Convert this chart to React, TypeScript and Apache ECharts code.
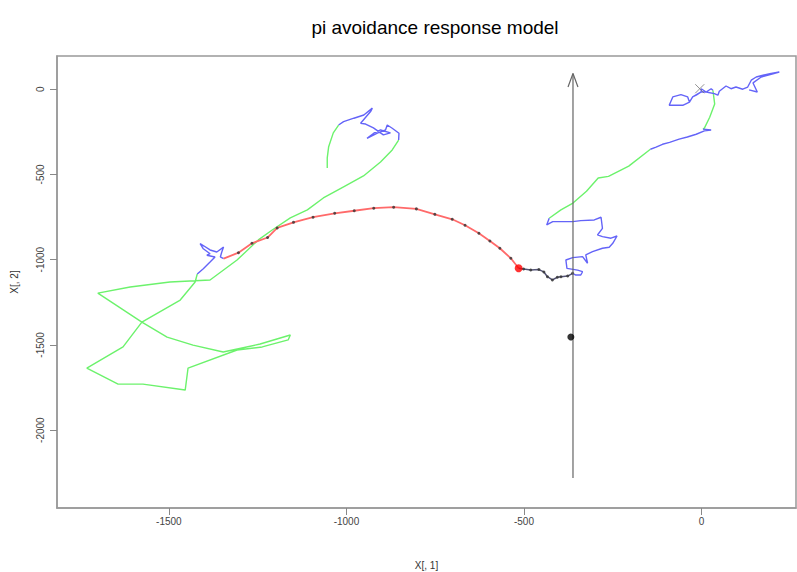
import React, { useEffect, useRef } from "react";
import * as echarts from "echarts";

type P = [number, number];

const titleText = "pi avoidance response model";
const xName = "X[, 1]";
const yName = "X[, 2]";
const xTicks = [-1500, -1000, -500, 0];
const yTicks = [0, -500, -1000, -1500, -2000];

const greenA: P[] = [[-853,-298],[-871,-356],[-904,-427],[-952,-509],[-1008,-573],[-1065,-638],[-1110,-708],[-1158,-755],[-1209,-826],[-1248,-884],[-1308,-1002],[-1384,-1119],[-1497,-1131],[-1609,-1160],[-1700,-1196],[-1576,-1366],[-1505,-1454],[-1432,-1501],[-1347,-1542],[-1243,-1495],[-1158,-1442],[-1164,-1471],[-1237,-1512],[-1308,-1530],[-1446,-1636],[-1454,-1765],[-1573,-1730],[-1643,-1730],[-1731,-1636],[-1629,-1512],[-1576,-1366],[-1468,-1237],[-1426,-1131],[-1420,-1084]];
const blueL: P[] = [[-1420,-1084],[-1403,-1053],[-1384,-1014],[-1370,-984],[-1393,-974],[-1384,-965],[-1403,-936],[-1412,-906],[-1401,-920],[-1384,-943],[-1365,-955],[-1346,-926],[-1351,-955],[-1355,-984],[-1346,-994]];
const redCurve: P[] = [[-1346,-994],[-1304,-959],[-1266,-904],[-1222,-870],[-1195,-814],[-1149,-781],[-1094,-751],[-1033,-728],[-978,-713],[-923,-698],[-867,-692],[-803,-702],[-751,-734],[-702,-763],[-666,-798],[-627,-845],[-596,-890],[-568,-933],[-537,-992],[-515,-1050]];
const darkSeg: P[] = [[-515,-1050],[-501,-1055],[-481,-1061],[-458,-1058],[-444,-1072],[-434,-1100],[-420,-1119],[-406,-1103],[-396,-1100],[-377,-1096],[-363,-1080]];
const blueR: P[] = [[-363,-1080],[-354,-1090],[-340,-1090],[-335,-1070],[-349,-1061],[-379,-1051],[-382,-1002],[-363,-988],[-335,-982],[-321,-1021],[-326,-972],[-307,-953],[-279,-933],[-260,-927],[-250,-904],[-238,-861],[-255,-874],[-279,-865],[-293,-855],[-279,-816],[-283,-751],[-302,-767],[-340,-771],[-363,-777],[-419,-777],[-436,-796],[-429,-757]];
const greenB: P[] = [[-429,-757],[-396,-708],[-362,-668],[-324,-599],[-291,-521],[-262,-511],[-205,-451],[-144,-352]];
const blueTR: P[] = [[-144,-352],[-128,-340],[-110,-323],[-90,-312],[-63,-293],[-40,-280],[-15,-264],[8,-244],[27,-239],[4,-234]];
const greenC: P[] = [[4,-234],[8,-228],[23,-164],[37,-86],[32,-6]];
const blueTop: P[] = [[32,-6],[27,3],[13,-16],[-1,3],[-1,-16],[-15,-35],[-25,-45],[-34,-75],[-53,-94],[-91,-94],[-81,-45],[-58,-32],[-39,-45],[-34,-75],[-25,-45],[-1,-16],[13,-16],[36,-26],[46,-35],[50,-12],[69,19],[83,3],[97,13],[116,0],[130,13],[140,53],[154,72],[173,82],[196,92],[219,101],[196,87],[168,72],[145,37],[157,-16],[134,-4]];
const blueM: P[] = [[-853,-298],[-852,-258],[-871,-229],[-885,-210],[-890,-239],[-913,-258],[-942,-288],[-923,-258],[-904,-239],[-876,-256],[-896,-268],[-924,-227],[-946,-204],[-960,-200],[-932,-131],[-927,-111],[-951,-151],[-979,-170],[-1008,-190],[-1022,-210]];
const greenD: P[] = [[-1022,-210],[-1037,-256],[-1050,-337],[-1054,-403],[-1054,-462]];
const arrowShaft: P[] = [[-362,-2281],[-362,92]];
const arrowHead: P[] = [[-376,13],[-362,92],[-348,13]];
const blackPoint: P[] = [[-368,-1454]];
const redPoint: P[] = [[-515,-1050]];
const originMark: P[] = [[-5,3]];

const GREEN = "#6cf26c";
const BLUE = "#6464f8";
const RED = "#ff6a6a";

export default function App() {
  const ref = useRef<HTMLDivElement>(null);
  useEffect(() => {
    const chart = echarts.init(ref.current!, null, { renderer: "svg" });
    const font = "'Liberation Sans', Arial, sans-serif";
    const line = (data: P[], color: string, width = 1.4, z = 2) => ({
      type: "line",
      data,
      showSymbol: false,
      symbol: "none",
      lineStyle: { color, width },
      itemStyle: { color },
      silent: true,
      z,
    });
    const plain = (v: number) => String(v);
    chart.setOption({
      animation: false,
      backgroundColor: "#fff",
      title: {
        text: titleText,
        left: 430,
        top: 13,
        textAlign: "center",
        textStyle: { fontFamily: font, fontSize: 19, fontWeight: "normal", color: "#000" },
      },
      grid: {
        left: 57,
        right: 1,
        top: 56,
        bottom: 64,
        show: true,
        borderColor: "#999",
        borderWidth: 1.5,
        backgroundColor: "transparent",
        outerBoundsMode: "none",
        containLabel: false,
      },
      xAxis: {
        type: "value",
        min: -1815,
        max: 266,
        name: xName,
        nameLocation: "middle",
        nameGap: 52,
        nameTextStyle: { fontFamily: font, fontSize: 10, color: "#333" },
        splitLine: { show: false },
        axisLine: { show: true, onZero: false, lineStyle: { color: "#999", width: 1.5 } },
        axisTick: { show: true, length: 7, customValues: xTicks, lineStyle: { color: "#888" } },
        axisLabel: { customValues: xTicks, margin: 8, formatter: plain, fontFamily: font, fontSize: 10, color: "#444" },
      },
      yAxis: {
        type: "value",
        min: -2457,
        max: 195,
        name: yName,
        nameLocation: "middle",
        nameGap: 38,
        nameRotate: 90,
        nameTextStyle: { fontFamily: font, fontSize: 10, color: "#333" },
        splitLine: { show: false },
        axisLine: { show: true, onZero: false, lineStyle: { color: "#999", width: 1.5 } },
        axisTick: { show: true, length: 7, customValues: yTicks, lineStyle: { color: "#888" } },
        axisLabel: { customValues: yTicks, rotate: 90, margin: 12, formatter: plain, fontFamily: font, fontSize: 10, color: "#444" },
      },
      series: [
        line(greenA, GREEN),
        line(greenB, GREEN),
        line(greenC, GREEN),
        line(greenD, GREEN),
        line(blueL, BLUE),
        line(blueM, BLUE),
        line(blueR, BLUE),
        line(blueTR, BLUE),
        line(blueTop, BLUE),
        line(redCurve, RED, 1.8, 3),
        {
          type: "scatter",
          data: redCurve.slice(1, -1),
          symbol: "circle",
          symbolSize: 3,
          itemStyle: { color: "#333" },
          silent: true,
          z: 4,
        },
        line(darkSeg, "#555577", 1.5, 3),
        {
          type: "scatter",
          data: darkSeg.slice(1),
          symbol: "circle",
          symbolSize: 3,
          itemStyle: { color: "#333" },
          silent: true,
          z: 4,
        },
        {
          type: "scatter",
          data: redPoint,
          symbol: "circle",
          symbolSize: 8,
          itemStyle: { color: "#ff0000" },
          silent: true,
          z: 5,
        },
        line(arrowShaft, "#666", 1.2, 6),
        line(arrowHead, "#666", 1.2, 6),
        {
          type: "scatter",
          data: blackPoint,
          symbol: "circle",
          symbolSize: 7,
          itemStyle: { color: "#000" },
          silent: true,
          z: 7,
        },
        {
          type: "scatter",
          data: originMark,
          symbol: "path://M0,0L10,10M10,0L0,10",
          symbolSize: 9,
          itemStyle: { color: "none", borderColor: "#777", borderWidth: 1 },
          silent: true,
          z: 5,
        },
      ],
    });
    return () => chart.dispose();
  }, []);
  return (
    <div
      ref={ref}
      style={{ position: "fixed", left: 0, top: 0, width: 797, height: 572, background: "#fff" }}
    />
  );
}
